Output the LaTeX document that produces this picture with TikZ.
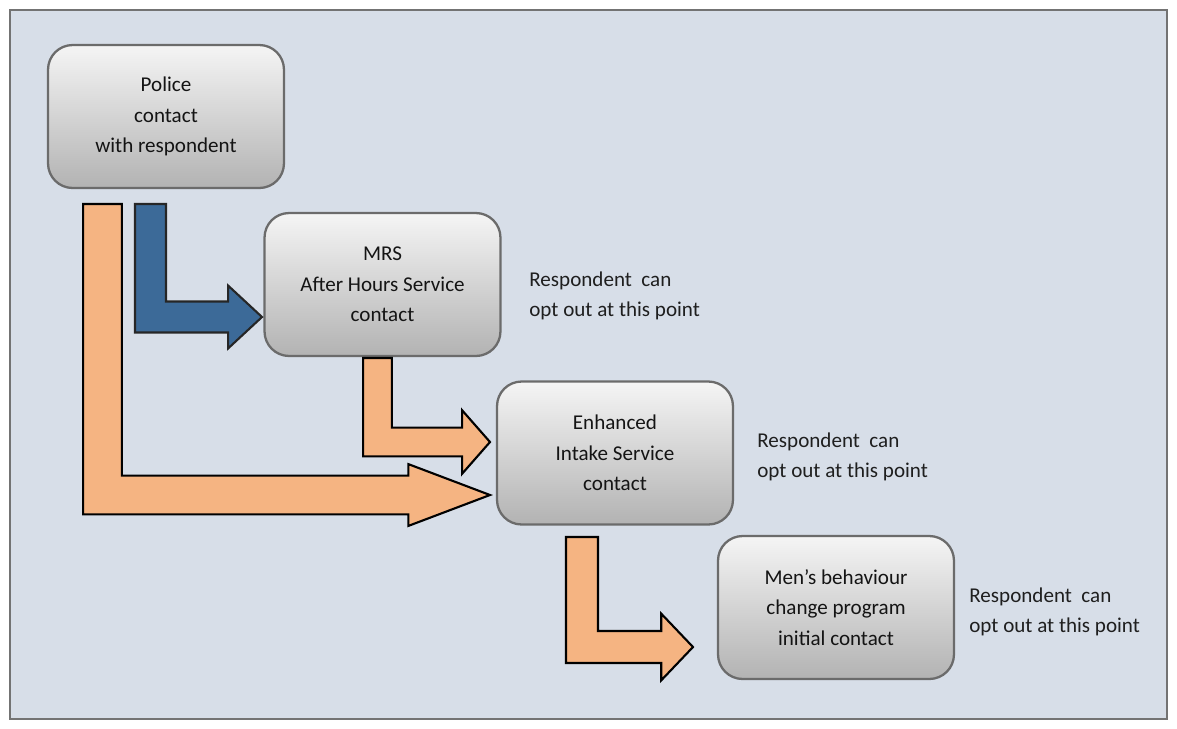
\documentclass[tikz,border=0pt]{standalone}
\usepackage{fontspec}
\setmainfont{Carlito}
\usetikzlibrary{calc}

\definecolor{bgblue}{RGB}{215,222,232}
\definecolor{peach}{RGB}{245,180,130}
\definecolor{steel}{RGB}{60,106,152}

% L-shaped block arrow: #1 style, #2 top of bar, #3 tip,
% #4 half bar width, #5 half head width, #6 head length
\newcommand{\blockarrow}[6]{%
  \filldraw[#1] let \p1=(#2), \p2=(#3) in
    (\x1-#4,\y1) -- (\x1-#4,\y2-#4) -- (\x2-#6,\y2-#4) -- (\x2-#6,\y2-#5)
    -- (\x2,\y2) -- (\x2-#6,\y2+#5) -- (\x2-#6,\y2+#4) -- (\x1+#4,\y2+#4)
    -- (\x1+#4,\y1) -- cycle;}

\begin{document}
\begin{tikzpicture}[
  x=0.02cm, y=-0.02cm,
  font=\fontsize{12}{17.4}\selectfont,
  stagebox/.style={draw=black!58, line width=1.3pt, rounded corners=14pt,
    top color=white!96!black, bottom color=black!30, text=black!92,
    minimum width=4.72cm, minimum height=2.86cm, align=center, inner sep=2pt},
  optnote/.style={anchor=west, align=left, text=black!88, inner sep=0pt},
  peacharrow/.style={fill=peach, draw=black, line width=1.2pt, line join=miter},
  bluearrow/.style={fill=steel, draw=black!85, line width=1.2pt, line join=miter}
]
\fill[white] (0,0) rectangle (1177,728);
\draw[draw=black!55, line width=1.1pt, fill=bgblue] (10,10) rectangle (1167,719);

% stages
\node[stagebox] (police) at (166,116.5) {Police\\contact\\with respondent};
\node[stagebox] (mrs) at (382.5,284.5) {MRS\\After Hours Service\\contact};
\node[stagebox] (eis) at (615,453) {Enhanced\\Intake Service\\contact};
\node[stagebox] (mbcp) at (836,607.5) {Men’s behaviour\\change program\\initial contact};

% opt-out notes
\node[optnote] (opt1) at (529,296) {Respondent~~can\\opt out at this point};
\node[optnote] (opt2) at (757,457) {Respondent~~can\\opt out at this point};
\node[optnote] (opt3) at (969,612) {Respondent~~can\\opt out at this point};

% arrow ends
\coordinate (polBig) at (102.5,204);
\coordinate (eisBig) at (490,495);
\coordinate (polMrs) at (150.5,204);
\coordinate (mrsIn) at (262,317);
\coordinate (mrsOut) at (377.5,358);
\coordinate (eisIn) at (490,442);
\coordinate (eisOut) at (582,537);
\coordinate (mbcpIn) at (693,647);

\blockarrow{peacharrow}{polBig}{eisBig}{11pt}{17.6pt}{46.5pt}
\blockarrow{bluearrow}{polMrs}{mrsIn}{8.8pt}{17.9pt}{19.3pt}
\blockarrow{peacharrow}{mrsOut}{eisIn}{8.2pt}{18.1pt}{15.9pt}
\blockarrow{peacharrow}{eisOut}{mbcpIn}{9.1pt}{19pt}{18.1pt}
\end{tikzpicture}
\end{document}
